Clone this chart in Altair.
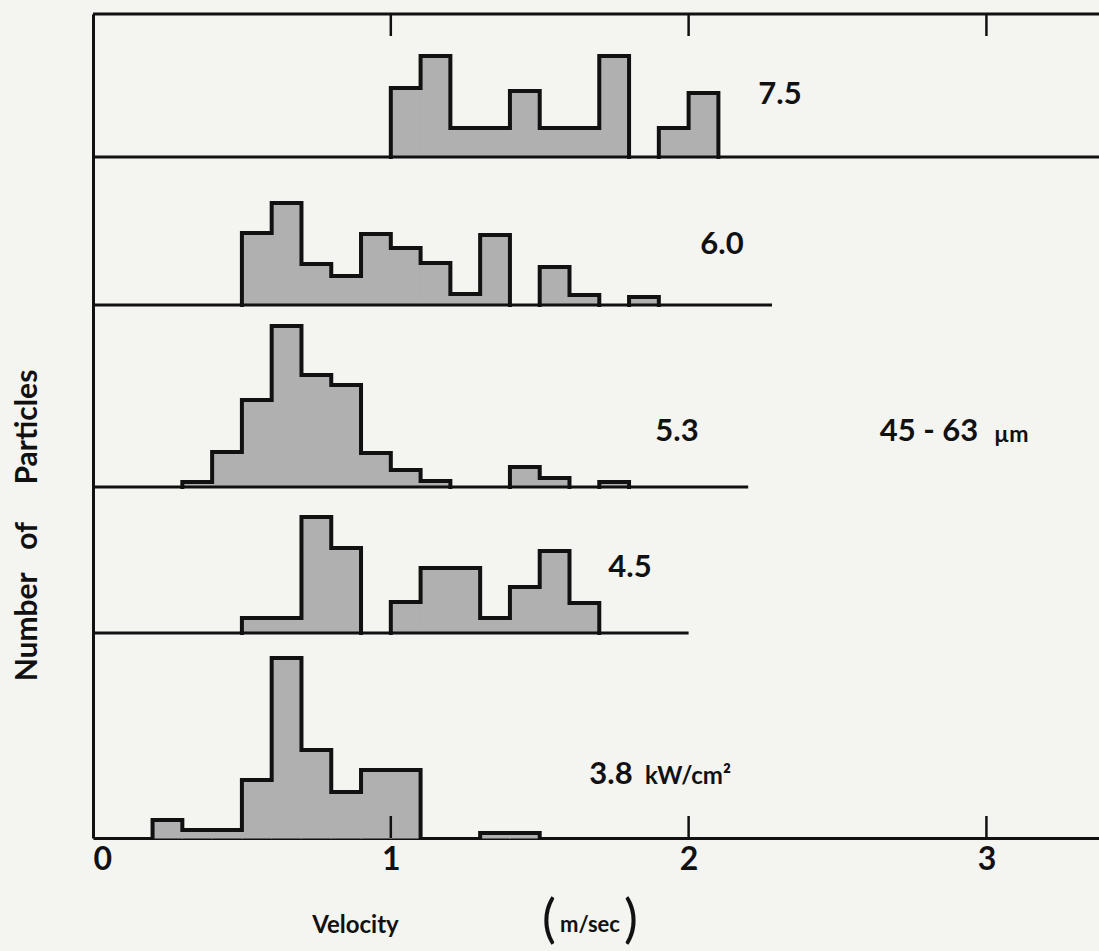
import altair as alt
import pandas as pd

# ---------------- data ----------------
BIN_WIDTH = 0.1  # m/sec
power_labels = ["7.5", "6.0", "5.3", "4.5", "3.8"]
unit_label = "kW/cm\u00b2"
size_label = "45 - 63"
size_unit = "\u00b5m"

# first bin start (m/sec) and relative bar heights for each irradiance
p75_start = 1.0
p75_heights = [6.9, 10.1, 2.9, 2.9, 6.6, 2.9, 2.9, 10.1, 0, 2.9, 6.4]
p60_start = 0.5
p60_heights = [7.2, 10.2, 4.1, 2.9, 7.1, 5.7, 4.2, 1.1, 7.0, 0, 3.8, 1.0, 0, 0.8]
p53_start = 0.3
p53_heights = [0.5, 3.5, 8.7, 16.1, 11.2, 10.2, 3.4, 1.7, 0.6, 0, 0, 2.0, 0.9, 0, 0.5]
p45_start = 0.5
p45_heights = [1.5, 1.5, 11.6, 8.5, 0, 3.1, 6.5, 6.5, 1.5, 4.6, 8.2, 3.0]
p38_start = 0.2
p38_heights = [1.8, 0.8, 0.8, 5.8, 18.0, 8.8, 4.6, 6.8, 6.8, 0, 0, 0.5, 0.5]

x_ticks = [0, 1, 2, 3]
X_MAX = 3.378
Y_MAX = 82.4

# ---------------- layout (stacked panels) ----------------
panel_base = [68.1, 53.3, 35.1, 20.5, 0.0]
panel_line_end = [X_MAX, 2.28, 2.2, 2.0, X_MAX]

series = [
    (p75_start, p75_heights),
    (p60_start, p60_heights),
    (p53_start, p53_heights),
    (p45_start, p45_heights),
    (p38_start, p38_heights),
]

bars, outline = [], []
run_id = 0
for k, (start, heights) in enumerate(series):
    base = panel_base[k]
    run = []
    for i, h in enumerate(heights + [0]):
        x0 = round(start + i * BIN_WIDTH, 3)
        if h > 0:
            bars.append({"panel": power_labels[k], "x0": x0, "x1": round(x0 + BIN_WIDTH, 3),
                         "y0": base, "y1": base + h})
            run.append((x0, h))
        elif run:
            pts = [(run[0][0], base)]
            for (xs, hh) in run:
                pts.append((xs, base + hh))
                pts.append((round(xs + BIN_WIDTH, 3), base + hh))
            pts.append((round(run[-1][0] + BIN_WIDTH, 3), base))
            for j, (px, py) in enumerate(pts):
                outline.append({"run": run_id, "o": j, "x": px, "y": py})
            run_id += 1
            run = []

bars_df = pd.DataFrame(bars)
outline_df = pd.DataFrame(outline)
base_df = pd.DataFrame({"x0": [0.0] * 4, "x1": panel_line_end[:4], "y": panel_base[:4]})
tick_df = pd.DataFrame({"v": [1, 2, 3]})

FONT = "Lato"
WEIGHT = "bold"
INK = "#111111"
GREY = "#b0b0b0"

xs = alt.Scale(domain=[0, X_MAX], nice=False, zero=False)
ys = alt.Scale(domain=[0, Y_MAX], nice=False, zero=False)

fill = alt.Chart(bars_df).mark_rect(fill=GREY, stroke=GREY, strokeWidth=1.2).encode(
    x=alt.X("x0:Q", scale=xs,
            axis=alt.Axis(values=x_ticks, ticks=False, domainColor=INK, domainWidth=3,
                          labelFont=FONT, labelFontWeight=WEIGHT, labelFontSize=32,
                          labelColor=INK, labelPadding=6, grid=False, format="d",
                          title="Velocity", titleFont=FONT, titleFontWeight=WEIGHT,
                          titleFontSize=24, titleColor=INK, titleX=262, titleY=87,
                          titleBaseline="middle")),
    x2="x1:Q",
    y=alt.Y("y0:Q", scale=ys,
            axis=alt.Axis(ticks=False, labels=False, grid=False, domainColor=INK,
                          domainWidth=3,
                          title="Number\u2003of\u2003\u2002Particles",
                          titleFont=FONT, titleFontWeight=WEIGHT, titleFontSize=30,
                          titleColor=INK, titleX=-66, titleY=511, titleAngle=270,
                          titleBaseline="middle")),
    y2="y1:Q",
)

lines = alt.Chart(outline_df).mark_line(color=INK, strokeWidth=4, strokeJoin="miter",
                                         strokeCap="square").encode(
    x=alt.X("x:Q", scale=xs), y=alt.Y("y:Q", scale=ys),
    detail="run:N", order="o:Q",
)

baselines = alt.Chart(base_df).mark_rule(color=INK, strokeWidth=3).encode(
    x=alt.X("x0:Q", scale=xs), x2="x1:Q", y=alt.Y("y:Q", scale=ys),
)

top_border = alt.Chart(pd.DataFrame({"a": [0.0], "b": [X_MAX]})).mark_rule(
    color=INK, strokeWidth=3).encode(
    x=alt.X("a:Q", scale=xs), x2="b:Q", y=alt.value(0),
)

top_ticks = alt.Chart(tick_df).mark_rule(color=INK, strokeWidth=2.5).encode(
    x=alt.X("v:Q", scale=xs), y=alt.value(0), y2=alt.value(22),
)
bottom_ticks = alt.Chart(tick_df).mark_rule(color=INK, strokeWidth=2.5).encode(
    x=alt.X("v:Q", scale=xs), y=alt.value(824 - 22), y2=alt.value(824),
)


def label(text, px, py, size=30, align="center", weight=WEIGHT):
    return alt.Chart(pd.DataFrame({"t": [text]})).mark_text(
        font=FONT, fontWeight=weight, fontSize=size, color=INK,
        align=align, baseline="middle").encode(
        text="t:N", x=alt.value(px - 93), y=alt.value(py - 14))


texts = [
    label(power_labels[0], 780, 95, size=31),
    label(power_labels[1], 722, 245, size=31),
    label(power_labels[2], 677, 432, size=31),
    label(power_labels[3], 630, 568, size=31),
    label(power_labels[4], 611, 775, size=31),
    label(unit_label, 645, 777, size=24, align="left"),
    label(size_label, 929, 432, size=31),
    label(size_unit, 994, 435, size=23, align="left"),
    label("(", 549, 921, size=52, weight="normal"),
    label("m/sec", 590, 925, size=22),
    label(")", 631, 921, size=52, weight="normal"),
]

chart = alt.layer(fill, lines, baselines, top_border, top_ticks, bottom_ticks, *texts).properties(
    width=1006, height=824,
    autosize=alt.AutoSizeParams(type="none"),
    padding={"left": 93, "top": 14, "right": 0, "bottom": 113},
    background="#f4f4f1",
).configure_view(stroke=None)

chart.save("out.html", embed_options={"renderer": "svg", "actions": False})
